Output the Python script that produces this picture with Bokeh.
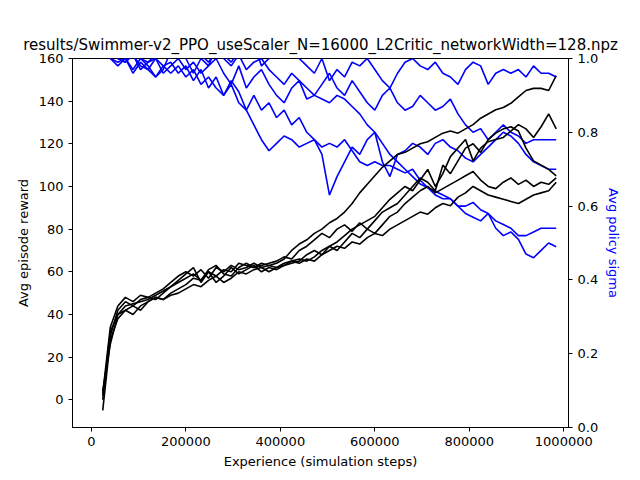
from bokeh.plotting import figure
from bokeh.models import Range1d, LinearAxis, FixedTicker, BasicTickFormatter, NumeralTickFormatter
from bokeh.embed import file_html
from bokeh.resources import INLINE

steps = list(range(24000, 1000000, 16000))

reward_a = [2,30,42,46,44,47,48,50,52,55, 58,60,58,61,57,62,60,63,61,62, 64,62,63,64,66,70,73,75,78,80,
            83,85,88,92,97,101,105,109,112,115, 116,118,120,121,123,125,126,125,127,129, 132,134,136,137,139,142,145,146,146,145, 152]
reward_b = [0,32,40,44,45,46,47,49,51,53, 56,59,62,55,60,58,61,60,64,63, 62,64,63,62,64,65,66,65,67,70,
            72,74,77,80,82,84,86,90,94,97, 100,98,103,108,100,106,114,118,122,112, 118,121,122,123,126,129,127,123,128,134, 127]
reward_c = [-5,28,38,42,44,42,46,48,47,50, 52,54,57,56,60,55,58,62,59,61, 63,60,62,61,63,64,65,68,70,68,
            72,70,74,78,76,80,84,88,90,92, 96,100,104,102,98,110,106,112,118,120, 116,122,125,127,128,126,118,112,110,108, 105]
reward_d = [4,26,40,42,40,44,46,48,47,49, 50,52,54,53,56,58,55,57,60,59, 61,62,60,62,63,65,64,66,65,68,
            70,72,71,74,73,76,78,77,80,82, 84,86,88,87,90,92,91,95,97,100, 98,96,95,94,93,92,94,96,97,98, 102]
reward_e = [3,34,44,48,46,49,48,47,50,53, 55,57,59,56,61,63,59,58,62,64, 62,63,64,65,67,66,70,72,75,78,
            76,80,82,79,83,80,78,82,86,88, 92,95,98,100,97,99,101,103,105,107, 103,100,99,102,104,101,103,100,102,101, 104]

sigma_a = [1.02,1.0,0.99,1.0,0.97,1.0,0.98,0.95,0.97,1.02, 1.05,1.0,0.96,1.0,0.98,1.03,1.01,0.99,1.02,1.0,
           1.04,0.98,1.0,1.03,1.06,1.02,1.0,0.98,0.96,1.0, 0.94,0.97,0.95,0.99,0.98,1.0,0.97,0.94,0.92,0.96,
           0.99,1.0,0.98,0.97,0.99,0.96,0.95,0.93,0.97,0.99, 0.98,0.93,0.96,0.97,0.96,0.97,0.95,0.98,0.96,0.96, 0.95]
sigma_b = [1.05,1.02,1.0,0.99,1.01,0.97,0.99,1.0,0.96,0.98, 1.0,0.97,0.99,0.96,0.98,1.0,0.96,0.93,0.98,0.92,
           0.95,0.97,0.93,0.9,0.88,0.92,0.94,0.89,0.9,0.93, 0.96,0.92,0.9,0.94,0.91,0.88,0.86,0.9,0.92,0.88,
           0.86,0.87,0.9,0.88,0.86,0.87,0.89,0.85,0.82,0.8, 0.81,0.78,0.8,0.82,0.8,0.79,0.77,0.78,0.78,0.78, 0.78]
sigma_c = [1.03,1.0,0.98,1.0,0.96,0.99,0.97,0.95,0.98,0.99, 0.96,0.98,0.94,0.97,0.92,0.95,0.9,0.93,0.88,0.86,
           0.9,0.86,0.88,0.84,0.86,0.82,0.84,0.8,0.78,0.74, 0.63,0.68,0.72,0.76,0.74,0.78,0.8,0.72,0.68,0.74,
           0.75,0.77,0.76,0.74,0.77,0.78,0.76,0.75,0.73,0.72, 0.74,0.76,0.78,0.8,0.79,0.77,0.74,0.72,0.71,0.7, 0.70]
sigma_d = [1.04,1.02,1.0,0.99,1.01,0.98,0.97,1.0,0.98,0.96, 0.98,0.95,0.97,0.93,0.95,0.92,0.9,0.94,0.91,0.86,
           0.82,0.78,0.75,0.77,0.79,0.78,0.76,0.77,0.78,0.76, 0.77,0.76,0.78,0.75,0.72,0.71,0.72,0.71,0.71,0.7,
           0.69,0.7,0.67,0.65,0.64,0.63,0.62,0.6,0.6,0.61, 0.59,0.58,0.56,0.55,0.54,0.52,0.52,0.53,0.54,0.54, 0.54]
sigma_e = [1.05,1.03,1.01,1.0,1.02,1.0,0.99,1.01,1.03,1.0, 1.02,1.0,1.04,1.01,0.99,1.02,1.0,0.98,1.01,0.97,
           0.99,1.0,0.97,0.95,0.93,0.96,0.94,0.92,0.9,0.89, 0.88,0.9,0.89,0.87,0.85,0.82,0.8,0.77,0.74,0.72,
           0.7,0.68,0.66,0.65,0.63,0.62,0.62,0.6,0.58,0.57, 0.56,0.58,0.54,0.52,0.53,0.51,0.47,0.46,0.48,0.5, 0.49]

rewards = [reward_a, reward_b, reward_c, reward_d, reward_e]
sigmas = [sigma_a, sigma_b, sigma_c, sigma_d, sigma_e]

FONT = "DejaVu Sans"
p = figure(width=624, height=472, output_backend="svg", toolbar_location=None,
           x_range=Range1d(-40000, 1010000), y_range=Range1d(-13, 160),
           min_border_left=72, min_border_right=48, min_border_top=58, min_border_bottom=45,
           title="results/Swimmer-v2_PPO_useScaler_N=16000_L2Critic_networkWidth=128.npz")
p.title.text_font = FONT
p.title.text_font_size = "15px"
p.title.text_font_style = "normal"
p.title.text_color = "black"
p.title.align = "center"
p.xgrid.visible = False
p.ygrid.visible = False
p.outline_line_color = "black"
p.extra_y_ranges = {"sig": Range1d(0, 1)}

for s in sigmas:
    p.line(steps, s, color="blue", line_width=1.6, y_range_name="sig")
for r in rewards:
    p.line(steps, r, color="black", line_width=1.6)

p.xaxis.ticker = FixedTicker(ticks=[0, 200000, 400000, 600000, 800000, 1000000])
p.xaxis.formatter = BasicTickFormatter(use_scientific=False)
p.yaxis.ticker = FixedTicker(ticks=list(range(0, 161, 20)))
p.xaxis.axis_label = "Experience (simulation steps)"
p.yaxis.axis_label = "Avg episode reward"

ax2 = LinearAxis(y_range_name="sig", axis_label="Avg policy sigma",
                 ticker=FixedTicker(ticks=[0, 0.2, 0.4, 0.6, 0.8, 1.0]),
                 formatter=NumeralTickFormatter(format="0.0"))
p.add_layout(ax2, "right")

for ax in [p.xaxis[0], p.yaxis[0], ax2]:
    ax.axis_label_text_font = FONT
    ax.axis_label_text_font_size = "13px"
    ax.axis_label_text_font_style = "normal"
    ax.axis_label_text_color = "black"
    ax.major_label_text_font = FONT
    ax.major_label_text_font_size = "13px"
    ax.major_label_text_color = "black"
    ax.minor_tick_line_color = None
    ax.major_tick_out = 4
    ax.major_tick_in = 0
    ax.axis_line_color = "black"
ax2.axis_label_text_color = "blue"

open("out.html", "w").write(file_html(p, INLINE))
